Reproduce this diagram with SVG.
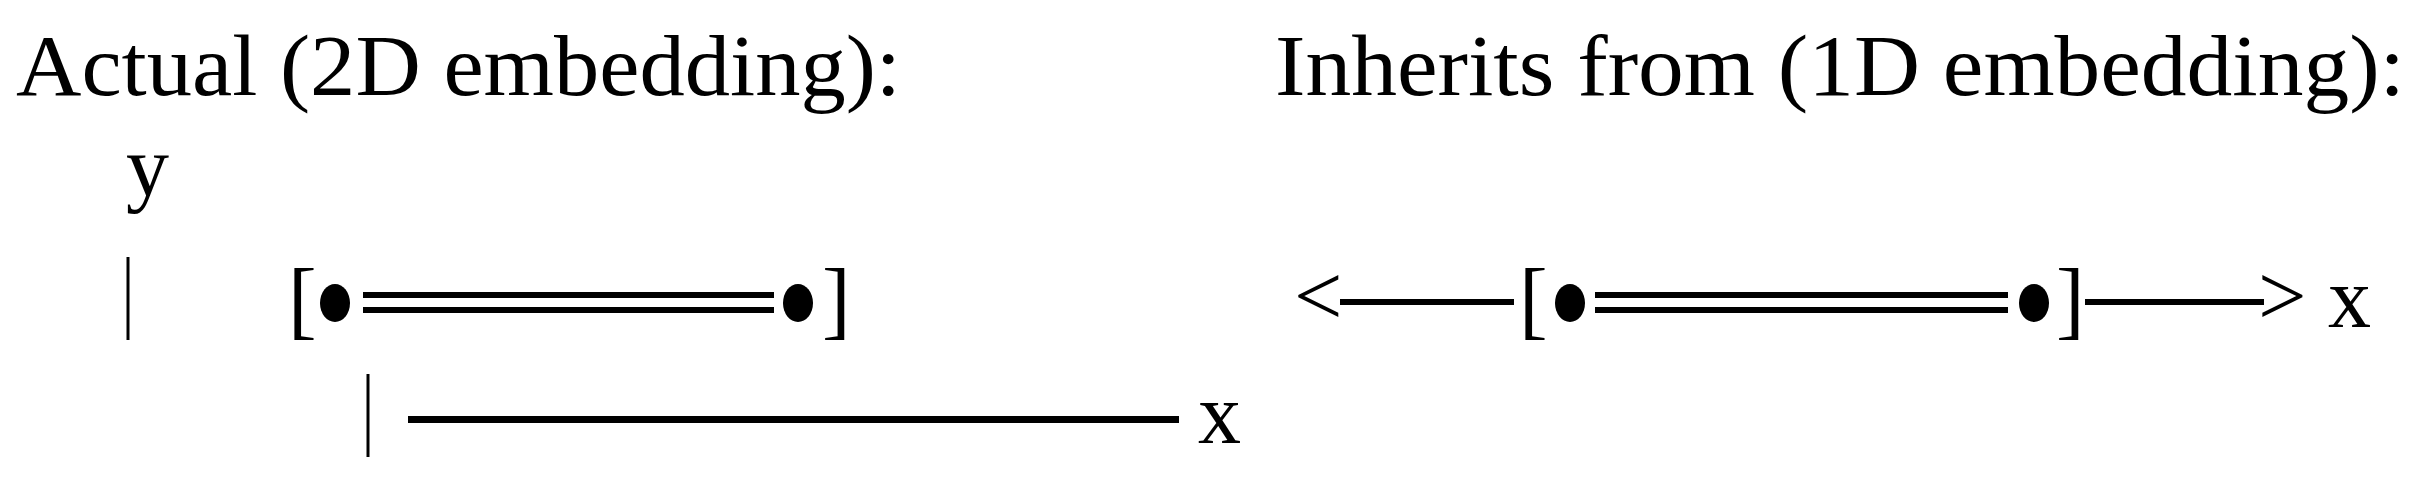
<svg xmlns="http://www.w3.org/2000/svg" width="2431" height="481" viewBox="0 0 2431 481">
<style>
text{font-family:"Liberation Serif",serif;font-size:86px;fill:#000}
.bar{stroke:#000;stroke-width:3}
.line{fill:#000}
</style>
<rect width="2431" height="481" fill="#fff"/>
<g id="title-left"><text x="16" y="95" textLength="885" lengthAdjust="spacingAndGlyphs">Actual (2D embedding):</text></g>
<g id="title-right"><text x="1275" y="95" textLength="1130" lengthAdjust="spacingAndGlyphs">Inherits from (1D embedding):</text></g>
<g id="axes-2d">
<text x="126" y="195" font-size="80">y</text>
<line class="bar" x1="128" y1="257" x2="128" y2="340"/>
<line class="bar" x1="368" y1="374" x2="368" y2="457"/>
<rect class="line" x="408" y="416" width="771" height="7"/>
<text x="1198" y="443" font-size="80">x</text>
</g>
<g id="segment-2d">
<text x="288" y="328">[</text>
<ellipse cx="335" cy="303" rx="15" ry="19"/>
<rect class="line" x="363" y="292" width="411" height="6"/>
<rect class="line" x="363" y="307" width="411" height="6"/>
<ellipse cx="798" cy="303" rx="15" ry="19"/>
<text x="822" y="328">]</text>
</g>
<g id="segment-1d">
<text x="1294" y="325">&lt;</text>
<rect class="line" x="1340" y="299" width="174" height="6"/>
<text x="1519" y="328">[</text>
<ellipse cx="1570" cy="303" rx="15" ry="19"/>
<rect class="line" x="1595" y="292" width="413" height="6"/>
<rect class="line" x="1595" y="307" width="413" height="6"/>
<ellipse cx="2034" cy="303" rx="15" ry="19"/>
<text x="2056" y="328">]</text>
<rect class="line" x="2085" y="299" width="179" height="6"/>
<text x="2258" y="325">&gt;</text>
<text x="2328" y="327" font-size="80">x</text>
</g>
</svg>
